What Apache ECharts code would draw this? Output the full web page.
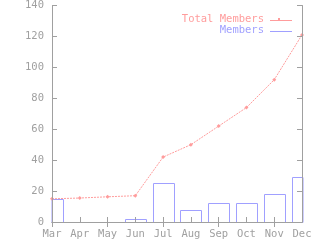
<!DOCTYPE html>
<html><head><meta charset="utf-8">
<script src="https://cdn.jsdelivr.net/npm/echarts@6/dist/echarts.min.js"></script>
<style>html,body{margin:0;padding:0;background:#fff}#c{width:320px;height:240px}</style>
</head><body><div id="c"></div>
<script>
const months = ['Mar','Apr','May','Jun','Jul','Aug','Sep','Oct','Nov','Dec'];
const members = [15, 0, 0, 2, 25, 8, 12, 12, 18, 29];
const totalMembers = [15, 15.5, 16.3, 17, 42, 50, 62, 74, 92, 121];
const yTicks = [0, 20, 40, 60, 80, 100, 120, 140];

const GRAY = '#a0a0a0', PINK = '#ff9c9c', BLUE = '#a0a0ff';
const FONT = 'DejaVu Sans Mono';
const FS = 10.5;
const BOX_FRACTION = 0.75;

const chart = echarts.init(document.getElementById('c'), null, {renderer: 'canvas'});
const axisCommon = {
  axisLine: {show: true, lineStyle: {color: GRAY, width: 1}},
  axisTick: {show: true, inside: true, length: 5, lineStyle: {color: GRAY}},
  splitLine: {show: false}
};
function renderBox(params, api) {
  const idx = api.value(0);
  const val = api.value(1);
  const top = api.coord([idx, val]);
  const base = api.coord([idx, 0]);
  const step = api.coord([1, 0])[0] - api.coord([0, 0])[0];
  const w = step * BOX_FRACTION;
  const cs = params.coordSys;
  const shape = echarts.graphic.clipRectByRect(
    {x: Math.round(top[0] - w / 2) + 0.5, y: Math.round(top[1]) + 0.5, width: Math.round(w), height: Math.round(base[1] - top[1])},
    {x: cs.x, y: cs.y - 1, width: cs.width + 1, height: cs.height + 2}
  );
  if (!shape) return null;
  return {type: 'rect', shape: shape, style: {fill: null, stroke: BLUE, lineWidth: 1}};
}
chart.setOption({
  animation: false,
  grid: {left: 52, right: 18, top: 5, bottom: 17, containLabel: false},
  xAxis: [
    Object.assign({type: 'category', data: months, boundaryGap: false, position: 'bottom', z: 10,
      axisLabel: {color: GRAY, fontFamily: FONT, fontSize: FS, margin: 7}}, axisCommon),
    Object.assign({type: 'category', data: months, boundaryGap: false, position: 'top', z: 10,
      axisLabel: {show: false}}, axisCommon)
  ],
  yAxis: [
    Object.assign({type: 'value', min: yTicks[0], max: yTicks[yTicks.length - 1], interval: 20, position: 'left', z: 10,
      axisLabel: {color: GRAY, fontFamily: FONT, fontSize: FS, margin: 8}}, axisCommon),
    Object.assign({type: 'value', min: yTicks[0], max: yTicks[yTicks.length - 1], interval: 20, position: 'right', z: 10,
      axisLabel: {show: false}}, axisCommon)
  ],
  series: [
    {
      name: 'Members', type: 'custom', renderItem: renderBox,
      data: members.map((v, i) => [i, v]),
      xAxisIndex: 0, yAxisIndex: 0, encode: {x: 0, y: 1}
    },
    {
      name: 'Total Members', type: 'line', data: totalMembers,
      xAxisIndex: 0, yAxisIndex: 0,
      lineStyle: {color: PINK, width: 1, type: [2, 1]},
      itemStyle: {color: PINK},
      symbol: 'diamond', symbolSize: 4, showAllSymbol: true
    }
  ],
  graphic: [
    {type: 'text', right: 56, top: 14, style: {text: 'Total Members', fill: PINK, font: FS + 'px ' + FONT, textAlign: 'right'}},
    {type: 'line', shape: {x1: 270, y1: 20.5, x2: 292, y2: 20.5}, style: {stroke: PINK, lineWidth: 1}},
    {type: 'rect', shape: {x: 278, y: 18, width: 2, height: 2}, style: {fill: PINK}},
    {type: 'text', right: 56, top: 25, style: {text: 'Members', fill: BLUE, font: FS + 'px ' + FONT, textAlign: 'right'}},
    {type: 'line', shape: {x1: 270, y1: 31.5, x2: 292, y2: 31.5}, style: {stroke: BLUE, lineWidth: 1}}
  ]
});
</script></body></html>
